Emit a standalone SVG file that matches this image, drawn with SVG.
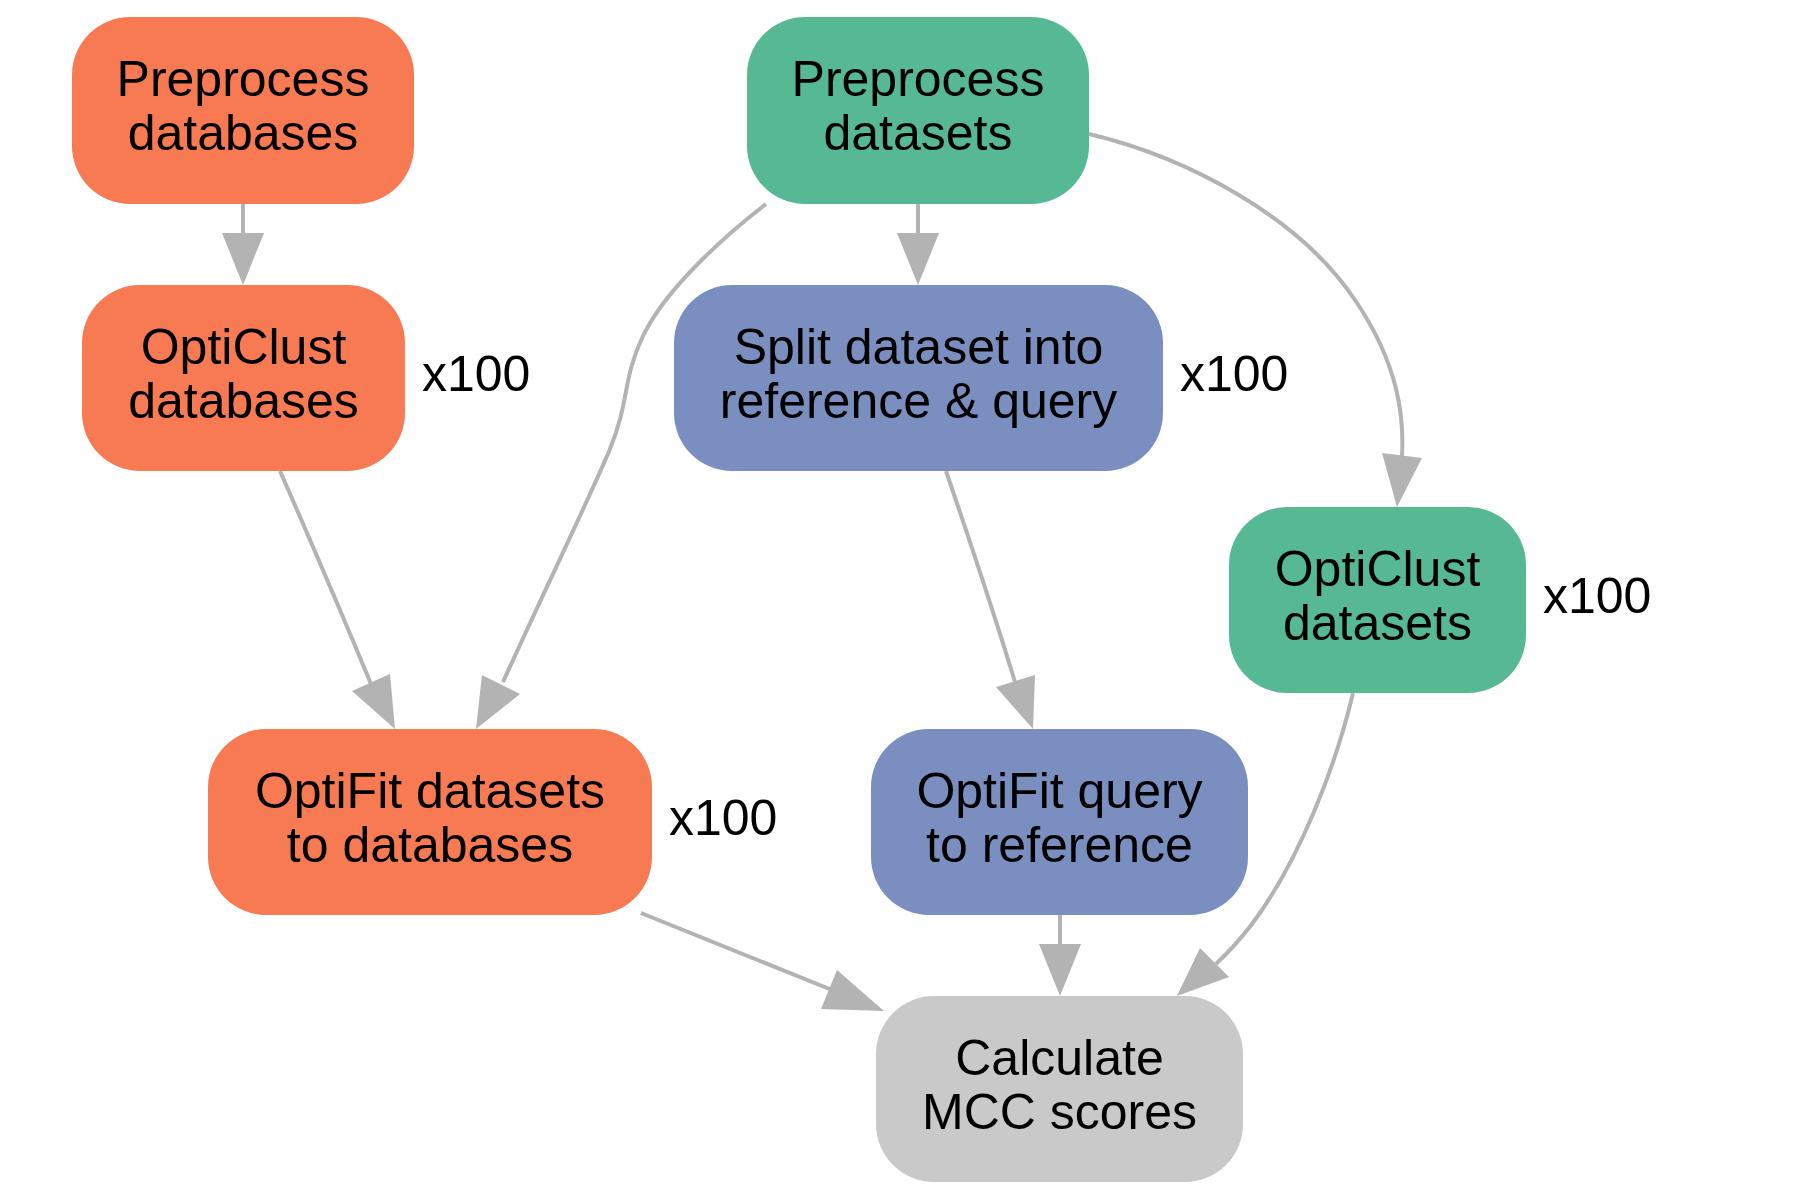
<svg xmlns="http://www.w3.org/2000/svg" width="1800" height="1200" viewBox="0 0 1800 1200">
<style>
.node text{font-family:"Liberation Sans",Arial,sans-serif;font-size:50px;fill:#000;text-anchor:middle}
.lbl{font-family:"Liberation Sans",Arial,sans-serif;font-size:50px;fill:#000}
.orange{fill:#F87A53}
.green{fill:#56B994}
.blue{fill:#7B8EC0}
.gray{fill:#C9C9C9}
.edge{fill:none;stroke:#B3B3B3;stroke-width:4}
.head{fill:#B3B3B3;stroke:none}
</style>
<rect width="1800" height="1200" fill="#fff"/>
<g id="connectors">
  <path class="edge" d="M243,204 L243,236"/>
  <polygon class="head" points="222,233 264,233 243,285"/>
  <path class="edge" d="M918,204 L918,236"/>
  <polygon class="head" points="897,233 939,233 918,285"/>
  <path class="edge" d="M766,204 C735,228 668,284 643,336 C622,380 630,400 610,449 C590,497 540,600 503,682"/>
  <polygon class="head" points="482,675 520,694 476,729"/>
  <path class="edge" d="M280,471 Q330,585 371,684"/>
  <polygon class="head" points="352,691 390,674 395,729"/>
  <path class="edge" d="M946,471 Q990,600 1015,682"/>
  <polygon class="head" points="996,687 1035,675 1033,729"/>
  <path class="edge" d="M1089,134 C1190,158 1300,218 1355,300 C1400,366 1404,420 1402,456"/>
  <polygon class="head" points="1382,453 1422,458 1397,507"/>
  <path class="edge" d="M641,913 L832,990"/>
  <polygon class="head" points="821,1009 837,970 884,1011"/>
  <path class="edge" d="M1060,915 L1060,947"/>
  <polygon class="head" points="1039,944 1081,944 1060,996"/>
  <path class="edge" d="M1353,693 C1336,765 1300,860 1252,924 Q1236,945 1216,964"/>
  <polygon class="head" points="1200,948 1229,977 1177,996"/>
</g>
<g id="preprocess_databases" class="node">
  <rect class="orange" x="72" y="17" width="342" height="187" rx="58" ry="58"/>
  <text x="243" y="96">Preprocess</text>
  <text x="243" y="150">databases</text>
</g>
<g id="opticlust_databases" class="node">
  <rect class="orange" x="82" y="285" width="323" height="186" rx="58" ry="58"/>
  <text x="243.5" y="364">OptiClust</text>
  <text x="243.5" y="418">databases</text>
</g>
<text class="lbl" x="422" y="391">x100</text>
<g id="preprocess_datasets" class="node">
  <rect class="green" x="747" y="17" width="342" height="187" rx="58" ry="58"/>
  <text x="918" y="96">Preprocess</text>
  <text x="918" y="150">datasets</text>
</g>
<g id="split_dataset" class="node">
  <rect class="blue" x="674" y="285" width="489" height="186" rx="58" ry="58"/>
  <text x="918.5" y="364">Split dataset into</text>
  <text x="918.5" y="418">reference &amp; query</text>
</g>
<text class="lbl" x="1180" y="391">x100</text>
<g id="opticlust_datasets" class="node">
  <rect class="green" x="1229" y="507" width="297" height="186" rx="58" ry="58"/>
  <text x="1377.5" y="586">OptiClust</text>
  <text x="1377.5" y="640">datasets</text>
</g>
<text class="lbl" x="1543" y="613">x100</text>
<g id="optifit_datasets" class="node">
  <rect class="orange" x="208" y="729" width="444" height="186" rx="58" ry="58"/>
  <text x="430" y="808">OptiFit datasets</text>
  <text x="430" y="862">to databases</text>
</g>
<text class="lbl" x="669" y="835">x100</text>
<g id="optifit_query" class="node">
  <rect class="blue" x="871" y="729" width="377" height="186" rx="58" ry="58"/>
  <text x="1059.5" y="808">OptiFit query</text>
  <text x="1059.5" y="862">to reference</text>
</g>
<g id="calculate_mcc" class="node">
  <rect class="gray" x="876" y="996" width="367" height="186" rx="58" ry="58"/>
  <text x="1059.5" y="1075">Calculate</text>
  <text x="1059.5" y="1129">MCC scores</text>
</g>
</svg>
